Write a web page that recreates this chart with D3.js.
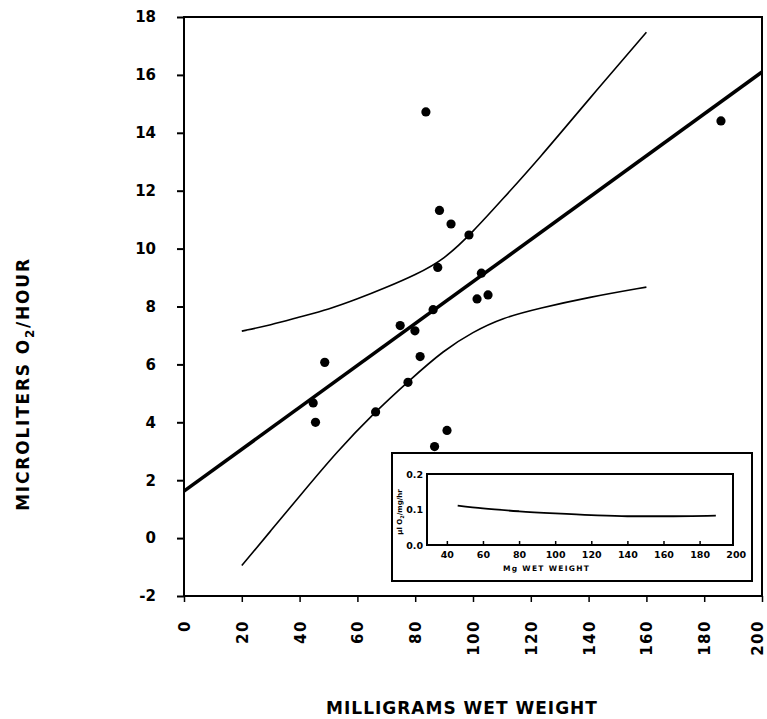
<!DOCTYPE html>
<html>
<head>
<meta charset="utf-8">
<script src="https://cdn.jsdelivr.net/npm/d3@7"></script>
<style>
  body { margin: 0; background: #fff; }
  svg text { font-family: "DejaVu Sans", sans-serif; fill: #000; }
</style>
</head>
<body>
<div id="chart"></div>
<script>
// data
let weights = [83.7, 88.4, 92.4, 98.6, 87.8, 102.9, 101.4, 105.2, 86.2, 74.8, 79.9, 81.7, 48.7, 77.5, 66.3, 44.7, 45.5, 91.0, 86.7, 185.8];
let rates   = [14.72, 11.32, 10.85, 10.47, 9.35, 9.15, 8.26, 8.4, 7.89, 7.34, 7.16, 6.27, 6.07, 5.38, 4.36, 4.67, 4.0, 3.72, 3.16, 14.41];

let fitX = [0, 200];
let fitY = [1.62, 16.1];

let upperX = [20, 30, 40, 50, 60, 70, 80, 90, 100, 110, 123, 140, 160];
let upperY = [7.15, 7.36, 7.64, 7.9, 8.26, 8.66, 9.09, 9.62, 10.58, 11.68, 13.12, 15.15, 17.47];

let lowerX = [20, 30, 40, 53, 66, 78, 90, 100, 110, 123, 140, 160];
let lowerY = [-0.95, 0.25, 1.45, 3.0, 4.35, 5.45, 6.5, 7.12, 7.6, 7.94, 8.32, 8.67];

let xTicks = [0, 20, 40, 60, 80, 100, 120, 140, 160, 180, 200];
let yTicks = [-2, 0, 2, 4, 6, 8, 10, 12, 14, 16, 18];

// inset: rate per mg
let insetX = [46, 60, 80, 100, 120, 140, 160, 189];
let insetY = [0.111, 0.103, 0.095, 0.089, 0.084, 0.081, 0.081, 0.083];
let insetXTicks = [40, 60, 80, 100, 120, 140, 160, 180, 200];
let insetYTicks = [0, 0.1, 0.2];

const width = 767, height = 719;

let svg = d3.select("#chart")
    .append("svg")
    .attr("width", width)
    .attr("height", height);

let x = d3.scaleLinear().domain([0, 200]).range([184, 762]);
let y = d3.scaleLinear().domain([-2, 18]).range([596, 17]);

// frame
svg.append("rect")
    .attr("x", x(0))
    .attr("y", y(18))
    .attr("width", x(200) - x(0))
    .attr("height", y(-2) - y(18))
    .attr("fill", "none")
    .attr("stroke", "#000")
    .attr("stroke-width", 2);

let yAxis = svg.append("g")
    .attr("transform", `translate(${x(0)},0)`)
    .call(d3.axisLeft(y).tickValues(yTicks).tickSize(7).tickSizeOuter(0).tickPadding(21).tickFormat(d => String(d)));
yAxis.select(".domain").remove();
yAxis.selectAll("line").attr("stroke-width", 2);
yAxis.selectAll("text")
    .style("font-size", "15px")
    .style("font-weight", "bold")
    .style("font-family", "DejaVu Sans");

let xAxis = svg.append("g")
    .attr("transform", `translate(0,${y(-2)})`)
    .call(d3.axisBottom(x).tickValues(xTicks).tickSize(6).tickSizeOuter(0).tickFormat(d => String(d)));
xAxis.select(".domain").remove();
xAxis.selectAll("line").attr("stroke-width", 1.5);
xAxis.selectAll("text")
    .attr("transform", "rotate(-90)")
    .attr("x", -24)
    .attr("y", d => d === 200 ? -5 : 0)
    .attr("dy", "0.36em")
    .style("text-anchor", "end")
    .style("font-size", "15px")
    .style("font-weight", "bold")
    .style("letter-spacing", "1.5px")
    .style("font-family", "DejaVu Sans");

// confidence curves
let line = d3.line()
    .x(d => x(d[0]))
    .y(d => y(d[1]))
    .curve(d3.curveBasis);

svg.append("path")
    .datum(d3.zip(upperX, upperY))
    .attr("d", line)
    .attr("fill", "none")
    .attr("stroke", "#000")
    .attr("stroke-width", 1.6);

svg.append("path")
    .datum(d3.zip(lowerX, lowerY))
    .attr("d", line)
    .attr("fill", "none")
    .attr("stroke", "#000")
    .attr("stroke-width", 1.6);

// regression line
svg.append("path")
    .datum(d3.zip(fitX, fitY))
    .attr("d", d3.line().x(d => x(d[0])).y(d => y(d[1])))
    .attr("fill", "none")
    .attr("stroke", "#000")
    .attr("stroke-width", 3.5);

// points
svg.append("g")
    .selectAll("circle")
    .data(d3.zip(weights, rates))
    .enter()
    .append("circle")
    .attr("cx", d => x(d[0]))
    .attr("cy", d => y(d[1]))
    .attr("r", 4.6)
    .attr("fill", "#000");

// axis titles
svg.append("text")
    .attr("x", 462)
    .attr("y", 714)
    .style("text-anchor", "middle")
    .style("font-size", "17px")
    .style("font-weight", "bold")
    .style("letter-spacing", "1px")
    .text("MILLIGRAMS  WET  WEIGHT");

let yTitle = svg.append("text")
    .attr("transform", "translate(29,384) rotate(-90)")
    .style("text-anchor", "middle")
    .style("font-size", "17px")
    .style("font-weight", "bold")
    .style("letter-spacing", "1.8px");
yTitle.append("tspan").text("MICROLITERS    O");
yTitle.append("tspan").attr("dy", 5).style("font-size", "12px").text("2");
yTitle.append("tspan").attr("dy", -5).text("/HOUR");

// ---- inset ----
svg.append("rect")
    .attr("x", 392)
    .attr("y", 453)
    .attr("width", 360)
    .attr("height", 128)
    .attr("fill", "#fff")
    .attr("stroke", "#000")
    .attr("stroke-width", 2);

let xi = d3.scaleLinear().domain([29, 198.5]).range([427, 733]);
let yi = d3.scaleLinear().domain([0, 0.2]).range([545, 474]);

svg.append("rect")
    .attr("x", xi(29))
    .attr("y", yi(0.2))
    .attr("width", xi(198.5) - xi(29))
    .attr("height", yi(0) - yi(0.2))
    .attr("fill", "none")
    .attr("stroke", "#000")
    .attr("stroke-width", 2);

let xiAxis = svg.append("g")
    .attr("transform", `translate(0,${yi(0)})`)
    .call(d3.axisBottom(xi).tickValues(insetXTicks).tickSize(-4).tickSizeOuter(0).tickPadding(4).tickFormat(d => String(d)));
xiAxis.select(".domain").remove();
xiAxis.selectAll(".tick").filter(d => d === 200).select("line").remove();
xiAxis.selectAll("line").attr("stroke-width", 1.5);
xiAxis.selectAll("text")
    .attr("y", 6)
    .attr("dy", "0.71em")
    .style("font-size", "9.5px")
    .style("font-weight", "bold")
    .style("font-family", "DejaVu Sans");

let yiAxis = svg.append("g")
    .attr("transform", `translate(${xi(29)},0)`)
    .call(d3.axisLeft(yi).tickValues(insetYTicks).tickSize(0).tickPadding(4).tickFormat(d3.format(".1f")));
yiAxis.select(".domain").remove();
yiAxis.selectAll("text")
    .style("font-size", "9.5px")
    .style("font-weight", "bold")
    .style("font-family", "DejaVu Sans");

svg.append("path")
    .datum(d3.zip(insetX, insetY))
    .attr("d", d3.line().x(d => xi(d[0])).y(d => yi(d[1])).curve(d3.curveMonotoneX))
    .attr("fill", "none")
    .attr("stroke", "#000")
    .attr("stroke-width", 1.8);

svg.append("text")
    .attr("x", 503)
    .attr("y", 571)
    .style("font-size", "7.5px")
    .style("font-weight", "bold")
    .style("letter-spacing", "1.3px")
    .text("Mg  WET  WEIGHT");

let yiTitle = svg.append("text")
    .attr("transform", "translate(402,512) rotate(-90)")
    .style("text-anchor", "middle")
    .style("font-size", "7px")
    .style("font-weight", "bold");
yiTitle.append("tspan").text("μl O");
yiTitle.append("tspan").attr("dy", 2).style("font-size", "5px").text("2");
yiTitle.append("tspan").attr("dy", -2).text("/mg/hr");
</script>
</body>
</html>
